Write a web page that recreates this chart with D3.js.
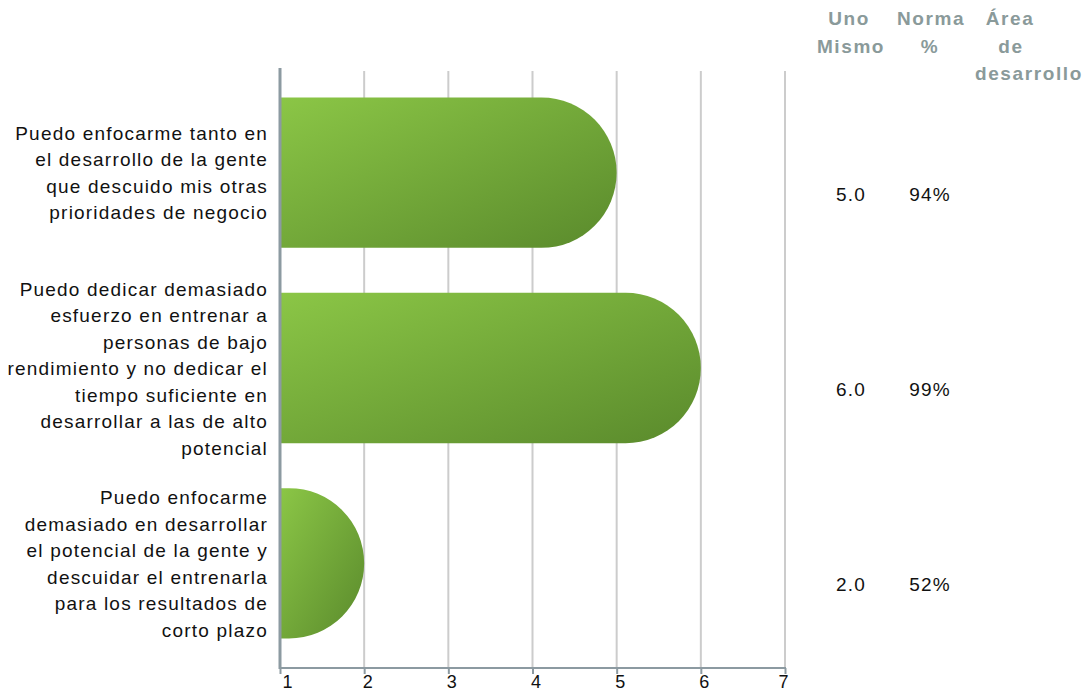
<!DOCTYPE html>
<html><head><meta charset="utf-8">
<script src="https://cdn.jsdelivr.net/npm/d3@7"></script>
<style>body{margin:0;background:#fff;font-family:"Liberation Sans",Arial,sans-serif;}</style>
</head><body>
<svg id="chart" width="1086" height="691"></svg>
<script>
const categories = [
  ["Puedo enfocarme tanto en","el desarrollo de la gente","que descuido mis otras","prioridades de negocio"],
  ["Puedo dedicar demasiado","esfuerzo en entrenar a","personas de bajo","rendimiento y no dedicar el","tiempo suficiente en","desarrollar a las de alto","potencial"],
  ["Puedo enfocarme","demasiado en desarrollar","el potencial de la gente y","descuidar el entrenarla","para los resultados de","corto plazo"]
];
const values = [5, 6, 2];
const selfScores = ["5.0", "6.0", "2.0"];
const normPct = ["94%", "99%", "52%"];
const areas = ["", "", ""];
const xTicks = [1, 2, 3, 4, 5, 6, 7];
const headers = [["Uno","Mismo"], ["Norma","%"], ["Área","de","desarrollo"]];

(function(){
const svg = d3.select("#chart");
const mLeft = 280, mRight = 785, mTop = 75, mBottom = 661, axisY = 668;
const x = d3.scaleLinear().domain([1, 7]).range([mLeft, mRight]);
const y = d3.scaleBand().domain(d3.range(categories.length)).range([mTop, mBottom]).paddingInner(0.23).paddingOuter(0.115);
const FS = 19, LS = 1.2;

const defs = svg.append("defs");
const grad = defs.append("linearGradient").attr("id","g").attr("x1","0").attr("y1","0").attr("x2","1").attr("y2","1");
grad.append("stop").attr("offset","0").attr("stop-color","#8bc646");
grad.append("stop").attr("offset","1").attr("stop-color","#5a8a2c");

svg.append("g").selectAll("line").data(xTicks.slice(1)).join("line")
  .attr("x1", d => x(d)).attr("x2", d => x(d))
  .attr("y1", 71).attr("y2", axisY)
  .attr("stroke", "#cccccc").attr("stroke-width", 2);

svg.append("g").selectAll("path").data(values).join("path")
  .attr("d", (d, i) => {
    const y0 = y(i), h = y.bandwidth(), r = h / 2;
    const x0 = x(1) + 1, x1 = x(d);
    const xr = Math.max(x0, x1 - r);
    return `M${x0},${y0} L${xr},${y0} A${r},${r} 0 0 1 ${xr},${y0 + h} L${x0},${y0 + h} Z`;
  })
  .attr("fill", "url(#g)");

svg.append("line").attr("x1", mLeft).attr("x2", mLeft).attr("y1", 68).attr("y2", axisY + 1)
  .attr("stroke", "#8c9aa1").attr("stroke-width", 3);
svg.append("line").attr("x1", mLeft - 1).attr("x2", mRight + 1).attr("y1", axisY).attr("y2", axisY)
  .attr("stroke", "#8c9aa1").attr("stroke-width", 2);

const xAxis = svg.append("g").attr("transform", `translate(0,${axisY})`)
  .call(d3.axisBottom(x).tickValues(xTicks).tickSize(6).tickFormat(d3.format("d")));
xAxis.select(".domain").remove();
xAxis.selectAll(".tick line").attr("stroke", "#8c9aa1").attr("stroke-width", 2);
xAxis.selectAll(".tick text")
  .attr("font-size", 18).attr("fill", "#111").attr("y", 19.5).attr("dy", 0)
  .attr("font-family", '"Liberation Sans",Arial,sans-serif')
  .attr("text-anchor", d => d === 1 ? "start" : d === 7 ? "end" : "middle")
  .attr("x", d => d === 1 ? 2 : 3);

const lh = 26.5;
categories.forEach((lines, i) => {
  const cy = y(i) + y.bandwidth() / 2;
  const t = svg.append("text").attr("text-anchor", "end").attr("font-size", FS).attr("letter-spacing", LS).attr("fill", "#111");
  lines.forEach((ln, k) => {
    t.append("tspan").attr("x", 268).attr("y", cy + (k - (lines.length - 1) / 2) * lh + 7).text(ln);
  });
});

const hdrPos = [
  [[849, "middle"], [851, "middle"]],
  [[931, "middle"], [930, "middle"]],
  [[1010, "middle"], [1011, "middle"], [975, "start"]]
];
headers.forEach((h, c) => {
  h.forEach((ln, k) => {
    svg.append("text").attr("x", hdrPos[c][k][0]).attr("y", 25 + k * 27.5).attr("text-anchor", hdrPos[c][k][1])
      .attr("font-size", FS).attr("font-weight", "bold").attr("fill", "#8a9a9a")
      .attr("letter-spacing", 1.6).text(ln);
  });
});

const colX = [851, 930, 1010];
values.forEach((v, i) => {
  const cy = y(i) + y.bandwidth() / 2 + 28;
  [selfScores[i], normPct[i], areas[i]].forEach((s, c) => {
    svg.append("text").attr("x", colX[c]).attr("y", cy).attr("text-anchor", "middle")
      .attr("font-size", FS).attr("letter-spacing", LS).attr("fill", "#111").text(s);
  });
});
})();
</script>
</body></html>
